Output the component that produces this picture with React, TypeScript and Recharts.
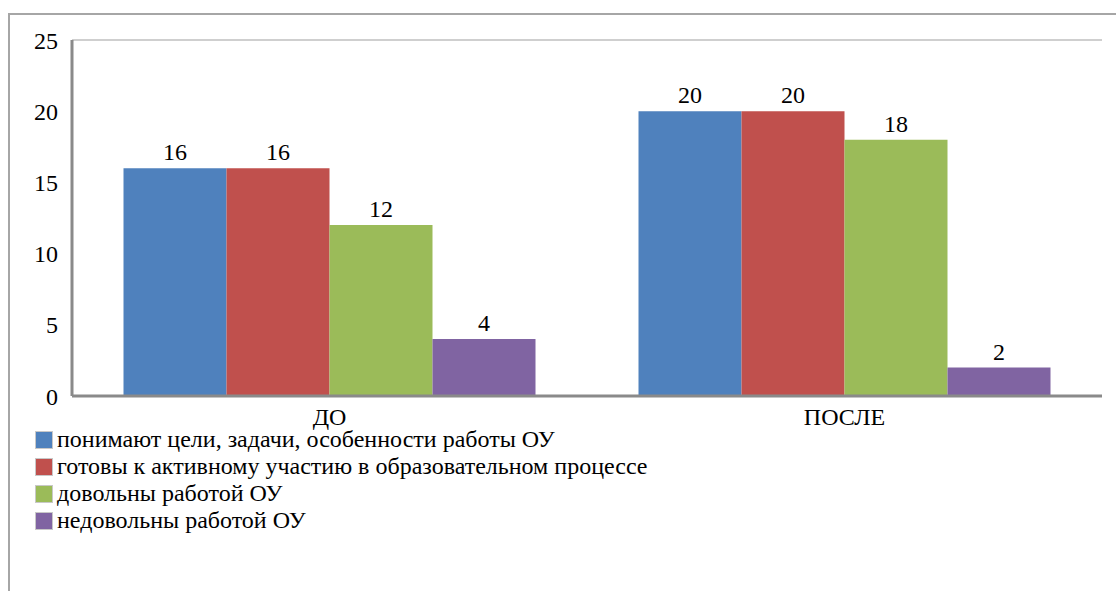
import { Bar, BarChart, LabelList, ReferenceLine, XAxis, YAxis } from 'recharts';

const categories = ['ДО', 'ПОСЛЕ'];
const understandGoals = [16, 20];
const readyToTakePart = [16, 20];
const satisfied = [12, 18];
const dissatisfied = [4, 2];
const yTicks = [0, 5, 10, 15, 20, 25];

const seriesNames = [
  'понимают цели, задачи, особенности работы ОУ',
  'готовы к активному участию в образовательном процессе',
  'довольны работой ОУ',
  'недовольны работой ОУ',
];
const seriesValues = [understandGoals, readyToTakePart, satisfied, dissatisfied];
const COLORS = ['#4F81BD', '#C0504D', '#9BBB59', '#8064A2'];

const data = categories.map((name, i) => {
  const row: Record<string, string | number> = { name };
  seriesNames.forEach((s, k) => {
    row[s] = seriesValues[k][i];
  });
  return row;
});

const FONT = "'Times New Roman', Tinos, 'Noto Serif', FreeSerif, 'Nimbus Roman', 'Liberation Serif', 'DejaVu Serif', serif";
const tickStyle = { fontSize: 24, fill: '#000', fontFamily: FONT };

export default function App() {
  return (
    <div
      style={{
        position: 'fixed',
        left: 0,
        top: 0,
        width: 1116,
        height: 591,
        background: '#fff',
        overflow: 'hidden',
        fontFamily: FONT,
      }}
    >
      <div
        style={{
          position: 'absolute',
          left: 8,
          top: 13,
          width: 1200,
          height: 700,
          borderTop: '2px solid #a6a6a6',
          borderLeft: '2px solid #a6a6a6',
        }}
      />
      <div style={{ position: 'absolute', left: 0, top: 0 }}>
        <BarChart
          width={1116}
          height={591}
          data={data}
          margin={{ top: 40, right: 14, left: 12, bottom: 165 }}
          barCategoryGap="10%"
          barGap={0}
          style={{ fontFamily: FONT }}
        >
          <XAxis
            dataKey="name"
            height={30}
            tickLine={false}
            tickMargin={6}
            axisLine={{ stroke: '#8a8a8a', strokeWidth: 3 }}
            tick={tickStyle}
          />
          <YAxis
            width={60}
            domain={[0, 25]}
            ticks={yTicks}
            interval={0}
            tickLine={false}
            tickMargin={8}
            axisLine={{ stroke: '#8a8a8a', strokeWidth: 3 }}
            tick={tickStyle}
          />
          <YAxis
            yAxisId="right"
            orientation="right"
            width={0}
            tick={false}
            tickLine={false}
            axisLine={{ stroke: '#bfbfbf', strokeWidth: 1.5 }}
          />
          <ReferenceLine y={25} stroke="#bfbfbf" strokeWidth={1.5} />
          {seriesNames.map((s, k) => (
            <Bar key={s} dataKey={s} fill={COLORS[k]} isAnimationActive={false}>
              <LabelList dataKey={s} position="top" offset={8} style={tickStyle} />
            </Bar>
          ))}
        </BarChart>
      </div>
      <div style={{ position: 'absolute', left: 35, top: 426 }}>
        {seriesNames.map((s, k) => (
          <div
            key={s}
            style={{ display: 'flex', alignItems: 'center', height: 27, fontSize: 24, color: '#000' }}
          >
            <span
              style={{
                display: 'inline-block',
                width: 18,
                height: 18,
                background: COLORS[k],
                border: '1px solid #c8c8c8',
                boxSizing: 'border-box',
                marginRight: 4,
              }}
            />
            <span style={{ whiteSpace: 'nowrap' }}>{s}</span>
          </div>
        ))}
      </div>
    </div>
  );
}
